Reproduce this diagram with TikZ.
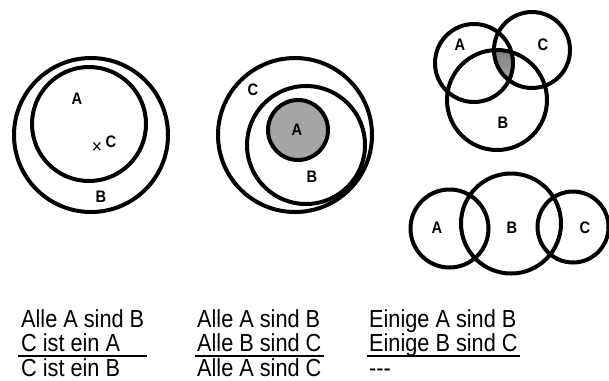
\documentclass[tikz,border=0pt]{standalone}
\usepackage{fontspec}
\setmainfont{Liberation Sans}[FakeStretch=0.88]
\definecolor{shade}{RGB}{165,165,165}
\setlength\tabcolsep{2pt}
\setlength\arrayrulewidth{1.5pt}
\newcommand\lowrow{\rule{0pt}{14.5pt}}
\tikzset{every picture/.style={line width=0.75pt}}

\begin{document}
\begin{tikzpicture}[x=0.75pt,y=0.75pt,yscale=-1,xscale=1,
  ring/.style={line width=3pt},
  tag/.style={inner sep=0.75pt, font=\fontsize{12.5}{14}\selectfont\bfseries},
  verse/.style={anchor=base west, inner sep=0pt, font=\fontsize{18.5}{17.25}\selectfont}]
\useasboundingbox (0,0) rectangle (609,380);

%Shape: Circle [id:B1]
\draw [ring] (91,135) circle (77);
%Shape: Circle [id:A1]
\draw [ring] (89,124) circle (57);

%Shape: Circle [id:C2]
\draw [ring] (295,135) circle (77);
%Shape: Circle [id:B2]
\draw [ring] (306,145) circle (59);
%Shape: Circle [id:A2]
\draw [ring, fill=shade] (298,130) circle (30);

%Shape: Intersection of A3, B3, C3
\begin{scope}
\clip (474,63) circle (39);
\clip (532,50) circle (38);
\fill [shade] (497,100) circle (50);
\end{scope}
%Shape: Circle [id:A3]
\draw [ring] (474,63) circle (39);
%Shape: Circle [id:C3]
\draw [ring] (532,50) circle (38);
%Shape: Circle [id:B3]
\draw [ring] (497,100) circle (50);

%Shape: Circle [id:A4]
\draw [ring] (449.5,228.5) circle (39);
%Shape: Circle [id:B4]
\draw [ring] (511,223.5) circle (50);
%Shape: Circle [id:C4]
\draw [ring] (573,227) circle (35.5);

% Text Node
\node [tag] (tagA1) at (77,99) {A};
\node [tag] (tagB1) at (101,197) {B};
\node [inner sep=0.75pt, font=\fontsize{15}{16}\selectfont] (crossC1) at (97,148) {×};
\node [tag] (tagC1) at (111,142) {C};
% Text Node
\node [tag] (tagC2) at (253,90) {C};
\node [tag] (tagA2) at (297,130) {A};
\node [tag] (tagB2) at (312,177) {B};
% Text Node
\node [tag] (tagA3) at (460,45) {A};
\node [tag] (tagC3) at (543,45) {C};
\node [tag] (tagB3) at (503,123) {B};
% Text Node
\node [tag] (tagA4) at (437,228) {A};
\node [tag] (tagB4) at (512,228) {B};
\node [tag] (tagC4) at (585,228) {C};

% Text Node
\node [verse] (rule1) at (18,327) {\begin{tabular}[t]{l}Alle A sind B\\ C ist ein A\\[-3pt] \hline \lowrow C ist ein B\end{tabular}};
% Text Node
\node [verse] (rule2) at (194,327) {\begin{tabular}[t]{l}Alle A sind B\\ Alle B sind C\\[-3pt] \hline \lowrow Alle A sind C\end{tabular}};
% Text Node
\node [verse] (rule3) at (366,327) {\begin{tabular}[t]{l}Einige A sind B\\ Einige B sind C\\[-3pt] \hline \lowrow -{}-{}-\end{tabular}};

\end{tikzpicture}
\end{document}
